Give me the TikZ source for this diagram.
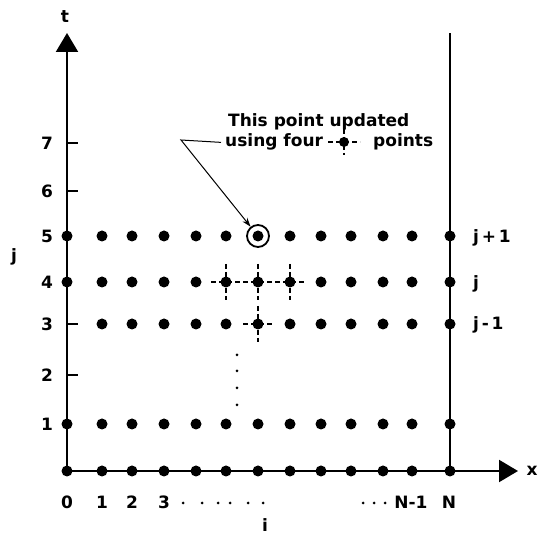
\documentclass[tikz,border=0pt]{standalone}
\usepackage{fontspec}
\setmainfont{DejaVu Sans}
\usetikzlibrary{arrows.meta}
\begin{document}
\begin{tikzpicture}[x=1pt,y=-1pt,
  gdot/.style={circle,fill=black,inner sep=0pt,minimum size=11pt},
  lbl/.style={font=\bfseries\fontsize{17}{17}\selectfont,inner sep=0pt},
  axisline/.style={line width=2.2pt},
  bigtip/.style={-{Triangle[width=22pt,length=19pt]}},
  stencil/.style={line width=1.8pt,dash pattern=on 5pt off 3pt},
  smalldot/.style={circle,fill=black,inner sep=0pt,minimum size=3pt},
  tickmark/.style={line width=1.4pt},
  leader/.style={line width=1pt,-{Stealth[length=9pt,width=6pt]}}
]
\useasboundingbox (0,0) rectangle (539,537);
\def\colxs{0/67,1/102,2/132,3/164,4/196,5/226,6/258,7/290,8/321,9/351,10/383,11/412,12/450}

% coordinates for the axis ends
\coordinate (O) at (67,471);
\coordinate (ttip) at (67,33);
\coordinate (xtip) at (518,471);
\coordinate (NB) at (450,471);
\coordinate (NT) at (450,33);

% axes
\draw[axisline,bigtip] (O) -- (ttip);
\draw[axisline,bigtip] (O) -- (xtip);
\draw[axisline] (NB) -- (NT);

% tick marks on t axis
\coordinate (k2) at (67,375);
\coordinate (k3) at (67,324);
\coordinate (k6) at (67,191);
\coordinate (k7) at (67,143);
\foreach \k in {k2,k3,k6,k7} \draw[tickmark] (\k) -- ++(11,0);

% grid points
\foreach \r/\y in {0/471,1/424,4/282,5/236} {
  \foreach \c/\x in \colxs { \node[gdot] (d\c-\r) at (\x,\y) {}; }
}
\foreach \c/\x in \colxs {
  \ifnum\c>0 \node[gdot] (d\c-3) at (\x,324) {}; \fi
}

% stencil crosses
\foreach \c/\r in {5/4,6/4,7/4,6/3} {
  \draw[stencil] ([xshift=-15pt]d\c-\r.center) -- ([xshift=15pt]d\c-\r.center);
  \draw[stencil] ([yshift=18pt]d\c-\r.center) -- ([yshift=-18pt]d\c-\r.center);
}

% circled target point
\node[circle,draw,line width=1.8pt,minimum size=22pt,inner sep=0pt] (target) at (258,236) {};

% vertical dotted ellipsis
\foreach \i/\y in {1/355,2/371,3/388,4/405} \node[smalldot] (v\i) at (237,\y) {};

% annotation
\node[lbl,anchor=base west] (note1) at (228,127) {This point updated};
\node[lbl,anchor=base west] (note2) at (225,147) {using four};
\node[gdot,minimum size=10pt] (sym) at (344,142) {};
\draw[stencil] ([xshift=-16pt]sym.center) -- ([xshift=16pt]sym.center);
\draw[stencil] ([yshift=13pt]sym.center) -- ([yshift=-13pt]sym.center);
\node[lbl,anchor=base west] (note3) at (373,147) {points};
\coordinate (bend) at (181,140);
\draw[leader] ([xshift=-4pt]note2.west) -- (bend) -- (target);

% left labels
\foreach \n/\y in {1/424,2/375,3/324,4/282,5/236,6/191,7/143}
  \node[lbl,anchor=base] (L\n) at (47,\y+6.5) {\n};
\node[lbl] (jlab) at (14,257) {j};
\node[lbl] (tlab) at (65,17) {t};
\node[lbl] (xlab) at (532,471) {x};

% right labels
\node[lbl,anchor=base west] (R5) at (473,243) {j\,+\,1};
\node[lbl,anchor=base west] (R4) at (473,289) {j};
\node[lbl,anchor=base west] (R3) at (473,330) {j\,-\,1};

% bottom labels
\foreach \n/\x in {0/67,1/102,2/132,3/164}
  \node[lbl,anchor=base] (B\n) at (\x,509) {\n};
\foreach \i/\x in {1/183,2/202,3/218,4/230,5/248,6/263}
  \node[smalldot] (bd\i) at (\x,503) {};
\foreach \i/\x in {1/363,2/374,3/385}
  \node[smalldot] (bn\i) at (\x,503) {};
\node[lbl,anchor=base] (Nm1) at (411,509) {N-1};
\node[lbl,anchor=base] (BN) at (449,509) {N};
\node[lbl] (ilab) at (265,525) {i};
\end{tikzpicture}
\end{document}
